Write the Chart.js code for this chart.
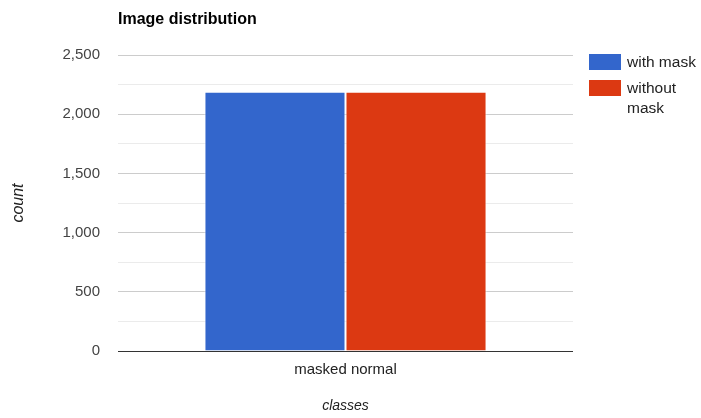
<!DOCTYPE html>
<html>
<head>
<meta charset="utf-8">
<script src="https://cdn.jsdelivr.net/npm/chart.js@4"></script>
<style>
  html, body { margin: 0; padding: 0; background: #fff; }
  canvas { display: block; }
</style>
</head>
<body>
<canvas id="c" width="701" height="418"></canvas>
<script>
const chartTitle = 'Image distribution';
const categories = ['masked normal'];
const seriesNames = ['with mask', 'without mask'];
const withMask = [2190];
const withoutMask = [2190];
const yTickValues = [0, 500, 1000, 1500, 2000, 2500];
const xAxisTitle = 'classes';
const yAxisTitle = 'count';

const FONT = '"Liberation Sans", Arial, sans-serif';

const customDraw = {
  id: 'customDraw',
  afterDraw(chart) {
    const ctx = chart.ctx;
    ctx.save();
    // title
    ctx.font = 'bold 16px ' + FONT;
    ctx.fillStyle = '#000';
    ctx.textBaseline = 'middle';
    ctx.textAlign = 'left';
    ctx.fillText(chartTitle, chart.chartArea.left, 20);
    // legend
    ctx.font = '15.5px ' + FONT;
    const boxX = 589, boxW = 32, boxH = 16, textX = 627, maxW = 701 - 627;
    let y = 54;
    chart.data.datasets.forEach(ds => {
      ctx.fillStyle = ds.backgroundColor;
      ctx.fillRect(boxX, y, boxW, boxH);
      const words = ds.label.split(' ');
      const lines = [];
      let cur = '';
      words.forEach(w => {
        const t = cur ? cur + ' ' + w : w;
        if (ctx.measureText(t).width > maxW && cur) { lines.push(cur); cur = w; }
        else cur = t;
      });
      if (cur) lines.push(cur);
      ctx.fillStyle = '#222';
      lines.forEach((ln, i) => ctx.fillText(ln, textX, y + 8.5 + i * 20));
      y += 26 + (lines.length - 1) * 20;
    });
    ctx.restore();
  }
};

new Chart(document.getElementById('c'), {
  type: 'bar',
  data: {
    labels: categories,
    datasets: [
      { label: seriesNames[0], data: withMask, backgroundColor: '#3366cc',
        borderColor: 'rgba(255,255,255,0.7)', borderWidth: 1, borderSkipped: 'bottom' },
      { label: seriesNames[1], data: withoutMask, backgroundColor: '#dc3912',
        borderColor: 'rgba(255,255,255,0.7)', borderWidth: 1, borderSkipped: 'bottom' }
    ]
  },
  options: {
    responsive: false,
    animation: false,
    layout: { padding: { top: 55, right: 128, left: 0, bottom: 0 } },
    datasets: { bar: { categoryPercentage: 0.62, barPercentage: 1.0 } },
    plugins: { legend: { display: false }, title: { display: false }, tooltip: { enabled: false } },
    scales: {
      x: {
        grid: { display: false, drawTicks: false },
        border: { display: false },
        ticks: { color: '#222', font: { family: FONT, size: 15 }, padding: 10 },
        title: { display: true, text: xAxisTitle, color: '#222',
                 font: { family: FONT, size: 14, style: 'italic' }, padding: { top: 0, bottom: 3 } },
        afterFit(s) { s.height = 67; }
      },
      y: {
        min: 0, max: 2500,
        afterBuildTicks(s) {
          const t = [];
          for (let v = 0; v <= 2500; v += 250) t.push({ value: v });
          s.ticks = t;
        },
        grid: {
          drawTicks: false,
          color: c => c.tick.value === 0 ? '#333333' : (yTickValues.includes(c.tick.value) ? '#cccccc' : '#ebebeb'),
          lineWidth: 1
        },
        border: { display: false },
        ticks: {
          color: '#444', font: { family: FONT, size: 15 }, padding: 18,
          callback: v => yTickValues.includes(v) ? v.toLocaleString('en-US') : ''
        },
        title: { display: true, text: yAxisTitle, color: '#222',
                 font: { family: FONT, size: 16, style: 'italic' }, padding: { top: 9, bottom: 0 } },
        afterFit(s) { s.width = 118; }
      }
    }
  },
  plugins: [customDraw]
});
</script>
</body>
</html>
